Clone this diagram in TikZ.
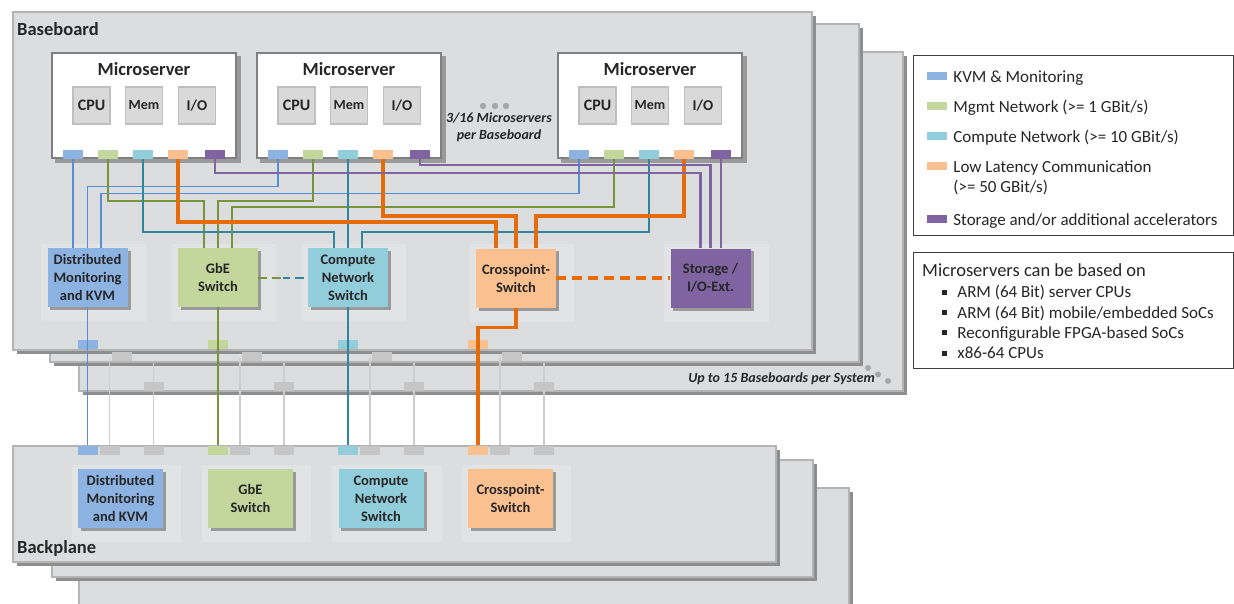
\documentclass[tikz,border=0pt]{standalone}
\usepackage{fontspec}
\setmainfont{Carlito}
\usetikzlibrary{calc,positioning}

\definecolor{kvmport}{HTML}{8DB3E2}
\definecolor{kvmline}{HTML}{558ED5}
\definecolor{mgmtport}{HTML}{C3D69B}
\definecolor{mgmtline}{HTML}{77933C}
\definecolor{compport}{HTML}{92CDDC}
\definecolor{compline}{HTML}{31859C}
\definecolor{llcport}{HTML}{FAC090}
\definecolor{llcline}{HTML}{E46C0A}
\definecolor{storport}{HTML}{8064A2}
\definecolor{boardfill}{HTML}{DCDDDF}
\definecolor{boardedge}{HTML}{B4B4B4}
\definecolor{boardshade}{HTML}{8E8E8E}
\definecolor{boxshade}{HTML}{9A9A9A}
\definecolor{halofill}{HTML}{E2E3E4}
\definecolor{compfill}{HTML}{D9D9D9}
\definecolor{compedge}{HTML}{BFBFBF}
\definecolor{msedge}{HTML}{7F7F7F}
\definecolor{idleport}{HTML}{C6C6C6}
\definecolor{idleline}{HTML}{CDCDCD}
\definecolor{dotc}{HTML}{A6A6A6}
\definecolor{textc}{HTML}{262626}

\pgfdeclarelayer{back}
\pgfdeclarelayer{glow}
\pgfsetlayers{back,glow,main}

\tikzset{
  board/.style={fill=boardfill,draw=boardedge,line width=1.5pt},
  boardshadow/.style={fill=boardshade},
  boxshadow/.style={fill=boxshade},
  headline/.style={inner sep=0pt,text=textc,font=\fontsize{18.5}{22}\selectfont\bfseries},
  msbox/.style={rectangle,fill=white,draw=msedge,line width=2.5pt,inner sep=0pt,
    minimum width=184pt,minimum height=105pt},
  comp/.style={rectangle,fill=compfill,draw=compedge,line width=1.5pt,
    minimum size=37pt,inner sep=0pt,text=textc},
  port/.style={rectangle,minimum width=20pt,minimum height=9pt,inner sep=0pt},
  switchbox/.style={rectangle,minimum width=80pt,minimum height=59pt,inner sep=0pt,
    align=center,text=textc,font=\fontsize{14.5}{18}\selectfont\bfseries},
  halo/.style={fill=halofill},
  note/.style={inner sep=0pt,text=textc,font=\fontsize{14}{17}\selectfont\bfseries\itshape},
  kvmw/.style={draw=kvmline,line width=1.1pt},
  mgmtw/.style={draw=mgmtline,line width=2pt},
  compw/.style={draw=compline,line width=2pt},
  llcw/.style={draw=llcline,line width=3.5pt},
  storw/.style={draw=storport,line width=2.2pt},
  idlew/.style={draw=idleline,line width=1.5pt},
  legbox/.style={draw=black!75,line width=.8pt},
  swatch/.style={rectangle,minimum width=20pt,minimum height=8pt,inner sep=0pt},
  legtext/.style={inner sep=0pt,text=textc,font=\fontsize{17}{20}\selectfont},
  bulletsq/.style={rectangle,fill=textc,minimum size=5pt,inner sep=0pt}
}

\begin{document}
\begin{tikzpicture}[x=1pt,y=-1pt]
  \useasboundingbox (0,0) rectangle (1234,603);

  % stacked baseboards and backplanes
  \begin{pgfonlayer}{back}
    \foreach \ax/\ay/\bx/\by in {79/52/903/391,50/24/859/362,13/12/812/350,
        79/488/849/620,52/460/813/577,13/446/776/562}{
      \fill[boardshadow] (\ax+3.5,\ay+3.5) rectangle (\bx+3.5,\by+3.5);
      \draw[board] (\ax,\ay) rectangle (\bx,\by);
    }
  \end{pgfonlayer}
  \node[headline,anchor=west] (bbtitle) at (17,29) {Baseboard};
  \node[headline,anchor=west] (bptitle) at (17,548) {Backplane};

  % microservers
  \foreach \i/\lx in {1/52,2/257,3/558}{
    \node[msbox] (ms\i) at (\lx+92,105.5) {};
    \node[headline] at (\lx+92,69) {Microserver};
    \node[comp,font=\fontsize{16}{16}\selectfont\bfseries] (ms\i-cpu) at (\lx+39.5,105.5) {CPU};
    \node[comp,font=\fontsize{14}{14}\selectfont\bfseries] (ms\i-mem) at (\lx+92,105.5) {Mem};
    \node[comp,font=\fontsize{15}{15}\selectfont\bfseries] (ms\i-io) at (\lx+145,105.5) {I/O};
    \node[port,fill=kvmport] (ms\i-kvm) at (\lx+21,154.5) {};
    \node[port,fill=mgmtport] (ms\i-mgmt) at (\lx+56,154.5) {};
    \node[port,fill=compport] (ms\i-comp) at (\lx+91,154.5) {};
    \node[port,fill=llcport] (ms\i-llc) at (\lx+126,154.5) {};
    \node[port,fill=storport] (ms\i-stor) at (\lx+163,154.5) {};
  }
  \foreach \x in {483,495,506} \fill[dotc] (\x,106) circle (3.2pt);
  \node[note,align=center] (msnote) at (499,127.5) {3/16 Microservers\\per Baseboard};

  % switches on the baseboard
  \node[switchbox,fill=kvmport] (bkvm) at (87.5,277.5) {Distributed\\Monitoring\\and KVM};
  \node[switchbox,fill=mgmtport] (bgbe) at (218,277.5) {GbE\\Switch};
  \node[switchbox,fill=compport] (bcomp) at (348,277.5) {Compute\\Network\\Switch};
  \node[switchbox,fill=llcport] (bxp) at (516,278) {Crosspoint-\\Switch};
  \node[switchbox,fill=storport] (bsto) at (710.5,278) {Storage /\\I/O-Ext.};

  % switches on the backplane
  \node[switchbox,fill=kvmport,minimum width=85pt] (pkvm) at (120.5,498.5) {Distributed\\Monitoring\\and KVM};
  \node[switchbox,fill=mgmtport,minimum width=85pt] (pgbe) at (250.5,498.5) {GbE\\Switch};
  \node[switchbox,fill=compport,minimum width=85pt] (pcomp) at (381,498.5) {Compute\\Network\\Switch};
  \node[switchbox,fill=llcport,minimum width=85pt] (pxp) at (510.5,498.5) {Crosspoint-\\Switch};

  % soft areas and shadows behind the boxes
  \begin{pgfonlayer}{glow}
    \foreach \s in {bkvm,bgbe,bcomp,bxp,bsto,pkvm,pgbe,pcomp,pxp}{
      \fill[halo] ($(\s.north west)+(-6,-4)$) rectangle ($(\s.south east)+(18,14)$);
      \fill[boxshadow] ($(\s.north west)+(3,3)$) rectangle ($(\s.south east)+(3,3)$);
    }
    \foreach \s in {ms1,ms2,ms3}
      \fill[boxshadow] ($(\s.north west)+(4,4)$) rectangle ($(\s.south east)+(4,4)$);
  \end{pgfonlayer}

  % idle links of the other baseboards
  \foreach \x [count=\i] in {87.5,218,348,478}{
    \coordinate (sb\i) at (\x+22,358);
    \coordinate (tb\i) at (\x+66,363);
    \node[port,fill=idleport] (bpa\i) at (\x+22,450) {};
    \node[port,fill=idleport] (bpb\i) at (\x+66,450) {};
    \draw[idlew] (sb\i) -- (bpa\i.north);
    \draw[idlew] (tb\i) -- (bpb\i.north);
    \node[port,fill=idleport] (sbp\i) at (\x+34,356.5) {};
    \node[port,fill=idleport] (tbp\i) at (\x+66,386.5) {};
  }

  % baseboard / backplane connectors
  \foreach \k/\c/\x in {kvm/kvmport/87.5,mgmt/mgmtport/218,comp/compport/348,llc/llcport/478}{
    \node[port,fill=\c] (bb-\k) at (\x,344.5) {};
    \node[port,fill=\c] (bp-\k) at (\x,450) {};
  }

  % KVM
  \draw[kvmw] (ms1-kvm.south) -- (ms1-kvm.south |- bkvm.north);
  \draw[kvmw] (ms2-kvm.south) -- ++(0,27) -| (bkvm.north);
  \draw[kvmw] (ms3-kvm.south) -- ++(0,34) -| ([xshift=13.5pt]bkvm.north);
  % mgmt
  \draw[mgmtw] (ms1-mgmt.south) -- ++(0,42) -| ([xshift=-14pt]bgbe.north);
  \draw[mgmtw] (ms2-mgmt.south) -- ++(0,42) -| (bgbe.north);
  \draw[mgmtw] (ms3-mgmt.south) -- ++(0,48) -| ([xshift=14pt]bgbe.north);
  % compute
  \draw[compw] (ms1-comp.south) -- ++(0,73) -| ([xshift=-14pt]bcomp.north);
  \draw[compw] (ms2-comp.south) -- (bcomp.north);
  \draw[compw] (ms3-comp.south) -- ++(0,73) -| ([xshift=14pt]bcomp.north);
  % low latency
  \draw[llcw] (ms1-llc.south) -- ++(0,63) -| ([xshift=-20pt]bxp.north);
  \draw[llcw] (ms2-llc.south) -- ++(0,57) -| (bxp.north);
  \draw[llcw] (ms3-llc.south) -- ++(0,57) -| ([xshift=20pt]bxp.north);
  % storage
  \draw[storw] (ms1-stor.south) -- ++(0,14) -| ([xshift=-10pt]bsto.north);
  \draw[storw] (ms2-stor.south) -- ++(0,6) -| (bsto.north);
  \draw[storw] (ms3-stor.south) -- (ms3-stor.south |- bsto.north);

  % switch to switch
  \coordinate (gcmid) at ($(bgbe.east)!.5!(bcomp.west)$);
  \draw[mgmtw,dash pattern=on 9pt off 5pt] (bgbe.east) -- (gcmid);
  \draw[compw,dash pattern=on 9pt off 5pt,dash phase=2pt] (gcmid) -- (bcomp.west);
  \draw[llcw,dash pattern=on 10pt off 6pt] (bxp.east) -- (bsto.west);

  % down to the backplane
  \draw[kvmw] (bkvm.south) -- (bp-kvm.north);
  \draw[mgmtw,line width=2.6pt] (bgbe.south) -- (bp-mgmt.north);
  \draw[compw,line width=2.6pt] (bcomp.south) -- (bp-comp.north);
  \draw[llcw] (bxp.south) -- ++(0,20) -| (bp-llc.north);

  \foreach \x/\y in {868/368,878/374.5,888/381} \fill[dotc] (\x,\y) circle (3pt);
  \node[note,anchor=east] (sysnote) at (875,379) {Up to 15 Baseboards per System};

  % legend
  \draw[legbox] (913,55) rectangle (1233,235);
  \node[swatch,fill=kvmport] (lg1) at (937,76) {};
  \node[legtext,base right=6pt of lg1,yshift=-6pt] (lt1) {KVM \& Monitoring};
  \node[swatch,fill=mgmtport] (lg2) at (937,106) {};
  \node[legtext,base right=6pt of lg2,yshift=-6pt] (lt2) {Mgmt Network (>= 1 GBit/s)};
  \node[swatch,fill=compport] (lg3) at (937,136) {};
  \node[legtext,base right=6pt of lg3,yshift=-6pt] (lt3) {Compute Network (>= 10 GBit/s)};
  \node[swatch,fill=llcport] (lg4) at (937,166) {};
  \node[legtext,base right=6pt of lg4,yshift=-6pt] (lt4) {Low Latency Communication};
  \node[legtext,anchor=base west] (lt4b) at ($(lt4.base west)+(0,20)$) {(>= 50 GBit/s)};
  \node[swatch,fill=storport] (lg5) at (937,219) {};
  \node[legtext,base right=6pt of lg5,yshift=-6pt] (lt5) {Storage and/or additional accelerators};

  \draw[legbox] (913,252) rectangle (1233,368);
  \node[legtext,font=\fontsize{18.5}{22}\selectfont,anchor=west] (mhead) at (922,270) {Microservers can be based on};
  \foreach \txt [count=\i] in {ARM (64 Bit) server CPUs,ARM (64 Bit) mobile/embedded SoCs,
      Reconfigurable FPGA-based SoCs,x86-64 CPUs}{
    \node[bulletsq] (bu\i) at (944.5,272+20.3*\i) {};
    \node[legtext,base right=10pt of bu\i,yshift=-5.5pt] (bt\i) {\txt};
  }
\end{tikzpicture}
\end{document}
